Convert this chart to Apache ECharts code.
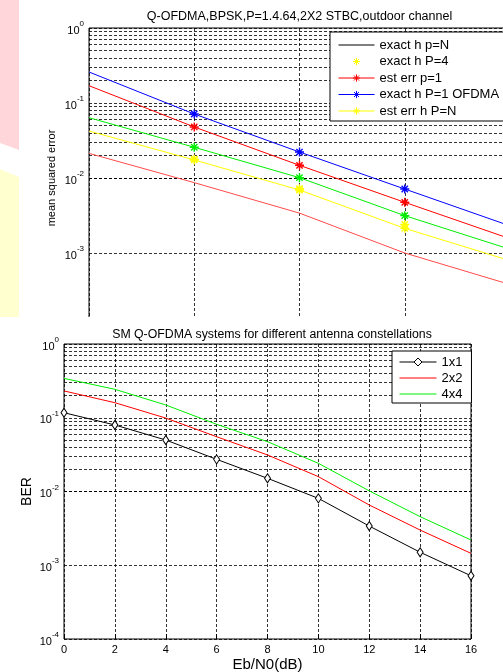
<!DOCTYPE html>
<html>
<head>
<meta charset="utf-8">
<script src="https://cdn.jsdelivr.net/npm/echarts@6/dist/echarts.min.js"></script>
<style>
  html, body { margin: 0; padding: 0; background: #fff; }
  #topWrap { position: absolute; left: 0; top: 0; width: 503px; height: 317px; overflow: hidden; }
  #topChart { position: absolute; left: 0; top: 0; width: 599px; height: 380px; }
  #botChart { position: absolute; left: 0; top: 317px; width: 503px; height: 355px; }
</style>
</head>
<body>
<div id="topWrap"><div id="topChart"></div></div>
<div id="botChart"></div>
<script>
// top plot: MSE vs x (axis cut off on the right / bottom in the source picture)
var topX = [0, 5, 10, 15, 20];
var exactHPN = [];                                           // legend only, no visible curve
var estErrP1 = [0.170, 0.0479, 0.01476, 0.00474, 0.00155];
var exactP1Ofdma = [0.259, 0.0713, 0.0222, 0.00713, 0.0023];
var estErrHPN = [0.0423, 0.0174, 0.00692, 0.00213, 0.00079];
var greenCurve = [0.0637, 0.0257, 0.0101, 0.00315, 0.00112];
var lowCurve = [0.0213, 0.00867, 0.0034, 0.0010, 0.00038];
var exactP4X = [5, 10, 15];
var exactP4 = [0.0178, 0.0072, 0.0024];
var topXTicks = [0, 5, 10, 15, 20];

// bottom plot: BER vs Eb/N0
var ebn0 = [0, 2, 4, 6, 8, 10, 12, 14, 16];
var ber1x1 = [0.117, 0.0798, 0.0499, 0.0273, 0.0151, 0.00807, 0.0034, 0.0015, 0.00072];
var ber2x2 = [0.231, 0.160, 0.099, 0.0553, 0.0313, 0.0159, 0.00656, 0.0030, 0.00145];
var ber4x4 = [0.342, 0.243, 0.149, 0.0815, 0.0474, 0.0241, 0.0102, 0.00456, 0.0022];

var FONT = 'Liberation Sans, Arial, sans-serif';
var STAR = 'path://M0,-10L0,10M-10,0L10,0M-7,-7L7,7M-7,7L7,-7';
var NOSYM = 'path://M0,0L10,10L0,0Z';   // zero-area symbol so the legend shows a bare line
var GRID_LINE = { color: '#000', width: 1, type: [3, 2], opacity: 0.8 };

function pairs(xs, ys, markEvery) {
  return ys.map(function (v, i) {
    var p = { value: [xs[i], v] };
    if (markEvery && (i === 0 || i === ys.length - 1)) p.symbol = 'none';
    return p;
  });
}

// dashed lines at 2..9 x 10^e for the log axis
function minorLines(lo, hi) {
  var out = [];
  for (var e = lo; e < hi; e++) {
    for (var m = 2; m <= 9; m++) out.push({ yAxis: m * Math.pow(10, e) });
  }
  return out;
}

function logLabel(v) {
  var e = Math.round(Math.log(v) / Math.LN10);
  return '{b|10}{e|' + e + '}';
}

var logRich = {
  b: { fontSize: 11, fontFamily: FONT, color: '#000', lineHeight: 16, verticalAlign: 'bottom' },
  e: { fontSize: 8, fontFamily: FONT, color: '#000', lineHeight: 16, verticalAlign: 'top', padding: [0, 0, 6, 0] }
};

function gridSeries() {
  return {
    name: 'grid', type: 'line', data: [], silent: true, z: 1,
    markLine: { silent: true, z: 1, symbol: ['none', 'none'], label: { show: false }, lineStyle: GRID_LINE, animation: false, data: minorLines(-4, 0) }
  };
}

function plainLine(name, color, xs, ys) {
  return {
    name: name, type: 'line', data: pairs(xs, ys, false),
    symbol: NOSYM, showSymbol: false,
    lineStyle: { color: color, width: 1 },
    itemStyle: { color: color, borderWidth: 0 }, z: 3
  };
}

function starLine(name, color, ys) {
  return {
    name: name, type: 'line', data: pairs(topX, ys, true),
    symbol: STAR, symbolSize: 9, showSymbol: true,
    lineStyle: { color: color, width: 1 },
    itemStyle: { color: color, borderColor: color, borderWidth: 1.4 },
    z: 3
  };
}

var topChart = echarts.init(document.getElementById('topChart'), null, { renderer: 'canvas' });
topChart.setOption({
  backgroundColor: 'transparent',
  animation: false,
  title: {
    text: 'Q-OFDMA,BPSK,P=1.4.64,2X2 STBC,outdoor channel',
    left: 'center', top: 5,
    textStyle: { fontSize: 12.5, fontWeight: 'normal', fontFamily: FONT, color: '#000' }
  },
  graphic: [
    { type: 'polygon', z: -10, shape: { points: [[0, 0], [19, 0], [19, 150], [0, 143]] }, style: { fill: '#ffd7db' } },
    { type: 'polygon', z: -10, shape: { points: [[0, 169], [19, 177], [19, 317], [0, 317]] }, style: { fill: '#ffffd0' } }
  ],
  legend: {
    orient: 'vertical', left: 330, top: 32,
    padding: [6, 40, 3, 8],
    itemWidth: 36, itemHeight: 9, itemGap: 2.5,
    backgroundColor: '#fff', borderColor: '#000', borderWidth: 1, borderRadius: 0,
    lineStyle: { width: 1 },
    itemStyle: { borderWidth: 1 },
    textStyle: { fontSize: 13, lineHeight: 14, fontFamily: FONT, color: '#000' },
    data: ['exact h p=N', 'exact h P=4', 'est err p=1', 'exact h P=1 OFDMA', 'est err h P=N']
  },
  grid: { left: 89, top: 28, width: 421, height: 300, show: true, borderColor: '#000', borderWidth: 1, outerBoundsMode: 'none' },
  xAxis: {
    type: 'value', min: topXTicks[0], max: topXTicks[topXTicks.length - 1], interval: 5,
    axisLine: { show: false }, axisTick: { inside: true, lineStyle: { color: '#000' } },
    axisLabel: { fontSize: 11, fontFamily: FONT, color: '#000' },
    splitLine: { show: true, lineStyle: GRID_LINE }
  },
  yAxis: {
    type: 'log', min: 1e-4, max: 1, logBase: 10,
    name: 'mean squared error', nameLocation: 'middle', nameGap: 32, nameMoveOverlap: false,
    nameTextStyle: { fontSize: 11, fontFamily: FONT, color: '#000' },
    axisLine: { show: false }, axisTick: { show: false },
    axisLabel: { formatter: logLabel, rich: logRich, margin: 5 },
    splitLine: { show: true, lineStyle: GRID_LINE }
  },
  series: [
    gridSeries(),
    plainLine('exact h p=N', '#000', topX, exactHPN),
    {
      name: 'exact h P=4', type: 'line', data: pairs(exactP4X, exactP4, false),
      symbol: STAR, symbolSize: 9, lineStyle: { opacity: 0, color: '#ffff00' },
      itemStyle: { color: '#ffff00', borderColor: '#ffff00', borderWidth: 1.4 }, z: 4
    },
    starLine('est err p=1', '#ff0000', estErrP1),
    starLine('exact h P=1 OFDMA', '#0000ff', exactP1Ofdma),
    starLine('est err h P=N', '#ffff00', estErrHPN),
    starLine('green', '#00ee00', greenCurve),
    plainLine('low', '#ff4a4a', topX, lowCurve)
  ]
});

var botChart = echarts.init(document.getElementById('botChart'), null, { renderer: 'canvas' });
botChart.setOption({
  backgroundColor: '#fff',
  animation: false,
  title: {
    text: 'SM Q-OFDMA systems for different antenna constellations',
    left: 267, top: 7, textAlign: 'center',
    textStyle: { fontSize: 12.3, fontWeight: 'normal', fontFamily: FONT, color: '#000' }
  },
  legend: {
    orient: 'vertical', left: 392, top: 34,
    padding: [4, 9, 2, 7],
    itemWidth: 37, itemHeight: 10, itemGap: 2,
    backgroundColor: '#fff', borderColor: '#000', borderWidth: 1, borderRadius: 0,
    lineStyle: { width: 1 },
    itemStyle: { borderWidth: 1 },
    textStyle: { fontSize: 13, lineHeight: 14, fontFamily: FONT, color: '#000' },
    data: ['1x1', '2x2', '4x4']
  },
  grid: { left: 64, top: 27, right: 32, bottom: 33, show: true, borderColor: '#000', borderWidth: 1, outerBoundsMode: 'none' },
  xAxis: {
    type: 'value', min: 0, max: 16, interval: 2,
    name: 'Eb/N0(dB)', nameLocation: 'middle', nameGap: 18, nameMoveOverlap: false,
    nameTextStyle: { fontSize: 15, fontFamily: FONT, color: '#000' },
    axisLine: { show: false }, axisTick: { inside: true, lineStyle: { color: '#000' } },
    axisLabel: { fontSize: 11, fontFamily: FONT, color: '#000', margin: 5 },
    splitLine: { show: true, lineStyle: GRID_LINE }
  },
  yAxis: {
    type: 'log', min: 1e-4, max: 1, logBase: 10,
    name: 'BER', nameLocation: 'middle', nameGap: 30, nameMoveOverlap: false,
    nameTextStyle: { fontSize: 14, fontFamily: FONT, color: '#000' },
    axisLine: { show: false }, axisTick: { show: false },
    axisLabel: { formatter: logLabel, rich: logRich, margin: 5 },
    splitLine: { show: true, lineStyle: GRID_LINE }
  },
  series: [
    gridSeries(),
    {
      name: '1x1', type: 'line', data: pairs(ebn0, ber1x1, false),
      symbol: 'diamond', symbolSize: [6, 9], showSymbol: true,
      lineStyle: { color: '#000', width: 1 },
      itemStyle: { color: '#fff', borderColor: '#000', borderWidth: 1 }, z: 4
    },
    plainLine('2x2', '#ff0000', ebn0, ber2x2),
    plainLine('4x4', '#00ee00', ebn0, ber4x4)
  ]
});
</script>
</body>
</html>
